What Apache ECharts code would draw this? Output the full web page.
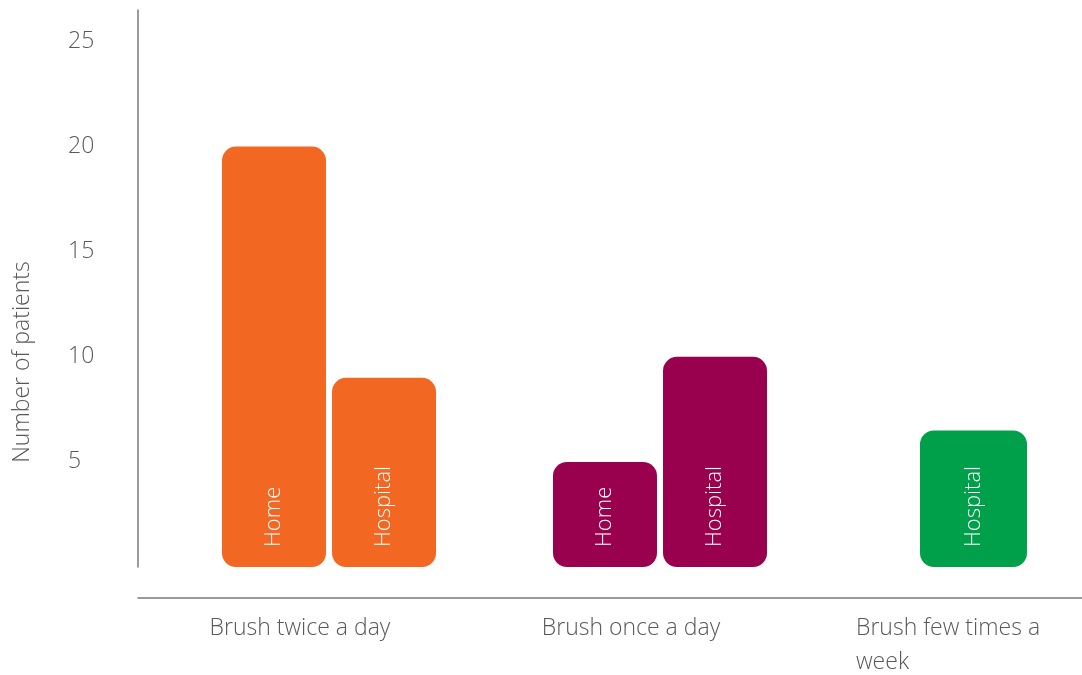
<!DOCTYPE html>
<html>
<head>
<meta charset="utf-8">
<script src="https://cdn.jsdelivr.net/npm/echarts@6/dist/echarts.min.js"></script>
<style>html,body{margin:0;padding:0;background:#fff}#c{width:1082px;height:675px}</style>
</head>
<body>
<div id="c"></div>
<script>
const categories = ["Brush twice a day", "Brush once a day", "Brush few times a week"];
const homeValues = [20, 5, null];
const hospitalValues = [9, 10, 6.5];
const barLabels = ["Home", "Hospital"];
const yTicks = [5, 10, 15, 20, 25];
const groupColors = ["#F26722", "#99004D", "#00A04B"];

const FONT = "'Open Sans', 'Noto Sans', sans-serif";
const TXT = "#595959";
const FS = 23;
const YMAX = 26.5;

function barLabel(text) {
  return {
    show: true, position: 'insideBottom', distance: 20, rotate: 90,
    align: 'left', verticalAlign: 'middle',
    formatter: text, color: '#fff', fontSize: 22, fontFamily: FONT, fontWeight: 300
  };
}
function colored(vals) {
  return vals.map((v, i) => v == null ? null : { value: v, itemStyle: { color: groupColors[i] } });
}

const chart = echarts.init(document.getElementById('c'), null, { renderer: 'canvas' });
chart.setOption({
  animation: false,
  backgroundColor: '#fff',
  grid: [
    { left: 138, right: 0, top: 10, bottom: 108, outerBoundsMode: 'none' },
    { left: 163.5, width: 662, top: 10, bottom: 108, outerBoundsMode: 'none' },
    { left: 873.5, width: 200, top: 10, bottom: 108, outerBoundsMode: 'none' }
  ],
  xAxis: [
    { gridIndex: 0, type: 'category', data: categories, offset: 31,
      axisLine: { show: true, onZero: false, lineStyle: { color: '#7a7a7a', width: 1.5 } },
      axisTick: { show: false }, axisLabel: { show: false }, splitLine: { show: false } },
    { gridIndex: 1, type: 'category', data: categories.slice(0, 2),
      axisLine: { show: false }, axisTick: { show: false }, splitLine: { show: false },
      axisLabel: { show: true, margin: 44, color: TXT, fontSize: FS, fontFamily: FONT, fontWeight: 300,
        lineHeight: 34, padding: [0, 58, 0, 0] } },
    { gridIndex: 2, type: 'category', data: categories.slice(2),
      axisLine: { show: false }, axisTick: { show: false }, splitLine: { show: false },
      axisLabel: { show: true, margin: 44, color: TXT, fontSize: FS, fontFamily: FONT, fontWeight: 300,
        lineHeight: 34, padding: [0, 35, 0, 0],
        formatter: v => { const w = v.split(' '); return '{a|' + w.slice(0, 4).join(' ') + '}\n{a|' + w.slice(4).join(' ') + '}'; },
        rich: { a: { width: 200, align: 'left', color: TXT, fontSize: FS, fontFamily: FONT, fontWeight: 300, lineHeight: 34 } } } }
  ],
  yAxis: [
    { gridIndex: 0, type: 'value', min: 0, max: YMAX, interval: 5,
      name: 'Number of patients', nameLocation: 'middle', nameGap: 104,
      nameTextStyle: { color: TXT, fontSize: FS, fontFamily: FONT, fontWeight: 300, padding: [0, 147, 0, 0] },
      axisLine: { show: true, lineStyle: { color: '#7a7a7a', width: 1.5 } },
      axisTick: { show: false }, splitLine: { show: false },
      axisLabel: { align: 'left', margin: 70, color: TXT, fontSize: FS, fontFamily: FONT, fontWeight: 300,
        formatter: v => yTicks.includes(v) ? String(v) : '' } },
    { gridIndex: 1, type: 'value', min: 0, max: YMAX, show: false },
    { gridIndex: 2, type: 'value', min: 0, max: YMAX, show: false }
  ],
  series: [
    { name: barLabels[0], type: 'bar', xAxisIndex: 1, yAxisIndex: 1, barWidth: 104, barGap: '5.8%',
      data: colored(homeValues.slice(0, 2)),
      itemStyle: { borderRadius: 14 }, label: barLabel(barLabels[0]) },
    { name: barLabels[1], type: 'bar', xAxisIndex: 1, yAxisIndex: 1, barWidth: 104, barGap: '5.8%',
      data: colored(hospitalValues.slice(0, 2)),
      itemStyle: { borderRadius: 14 }, label: barLabel(barLabels[1]) },
    { name: barLabels[1] + ' ', type: 'bar', xAxisIndex: 2, yAxisIndex: 2, barWidth: 107,
      data: [{ value: hospitalValues[2], itemStyle: { color: groupColors[2] } }],
      itemStyle: { borderRadius: 14 }, label: barLabel(barLabels[1]) }
  ]
});
</script>
</body>
</html>
